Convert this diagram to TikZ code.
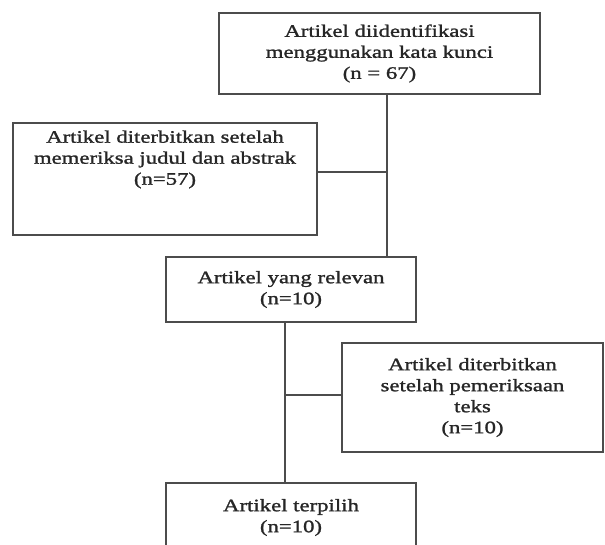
\documentclass[tikz,border=0pt]{standalone}
\usepackage{fontspec}
\setmainfont{Liberation Serif}[FakeStretch=1.3, FakeBold=1.4]
\usepackage{tikz}
\usetikzlibrary{positioning}

\tikzset{
    kotak/.style={draw=black!70, line width=1.3pt, rectangle},
    teksbox/.style={align=center, text=black!85, inner sep=0pt,
        font=\fontsize{17.5}{21}\selectfont},
    garis/.style={draw=black!70, line width=1.3pt}
}

\begin{document}
\begin{tikzpicture}[x=1pt, y=-1pt]
    \clip (0,0) rectangle (605,545);
    % boxes
    \node[kotak, minimum width=321, minimum height=81] (ident) at (379.5,53.5) {};
    \node[teksbox] (identtxt) at (ident.center) {Artikel diidentifikasi\\ menggunakan kata kunci\\ (n = 67)};
    \node[kotak, minimum width=304, minimum height=112] (terbit) at (165,179) {};
    \node[teksbox, anchor=north] (terbittxt) at ([yshift=-8]terbit.north) {Artikel diterbitkan setelah\\ memeriksa judul dan abstrak\\ (n=57)};
    \node[kotak, minimum width=250, minimum height=65] (relevan) at (291,289.5) {};
    \node[teksbox] (relevantxt) at (relevan.center) {Artikel yang relevan\\ (n=10)};
    \node[kotak, minimum width=261, minimum height=109] (teks) at (472.5,397.5) {};
    \node[teksbox] (tekstxt) at (teks.center) {Artikel diterbitkan\\ setelah pemeriksaan\\ teks\\ (n=10)};
    \node[kotak, minimum width=250, minimum height=65] (pilih) at (291,515.5) {};
    \node[teksbox, yshift=-2] (pilihtxt) at (pilih.center) {Artikel terpilih\\ (n=10)};
    % connectors
    \coordinate (j1) at (387,172);
    \coordinate (j2) at (285,395);
    \draw[garis] (ident.south -| j1) -- (relevan.north -| j1);
    \draw[garis] (terbit.east |- j1) -- (j1);
    \draw[garis] (relevan.south -| j2) -- (pilih.north -| j2);
    \draw[garis] (j2) -- (teks.west |- j2);
\end{tikzpicture}
\end{document}
